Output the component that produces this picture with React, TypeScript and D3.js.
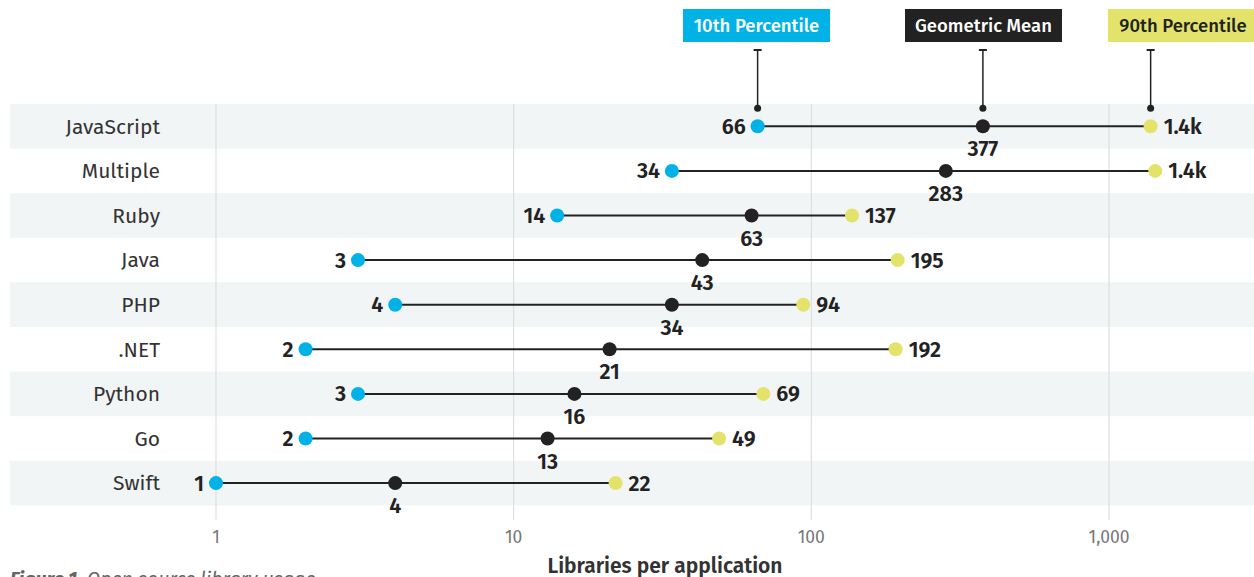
import React from "react";
import * as d3 from "d3";

const categories = ["JavaScript", "Multiple", "Ruby", "Java", "PHP", ".NET", "Python", "Go", "Swift"];
const p10 = [66, 34, 14, 3, 4, 2, 3, 2, 1];
const geoMean = [377, 283, 63, 43, 34, 21, 16, 13, 4];
const p90 = [1380, 1430, 137, 195, 94, 192, 69, 49, 22];
const p10Labels = ["66", "34", "14", "3", "4", "2", "3", "2", "1"];
const meanLabels = ["377", "283", "63", "43", "34", "21", "16", "13", "4"];
const p90Labels = ["1.4k", "1.4k", "137", "195", "94", "192", "69", "49", "22"];
const tickValues = [1, 10, 100, 1000];
const tickLabels = ["1", "10", "100", "1,000"];
const legendItems = ["10th Percentile", "Geometric Mean", "90th Percentile"];

const W = 1254;
const H = 577;
const FONT = "'Fira Sans', 'Open Sans', 'Noto Sans', sans-serif";
const BLUE = "#00b2e5";
const DARK = "#222222";
const YELLOW = "#e3e36b";

export default function App() {
  const x = d3.scaleLog().domain([1, 1000]).range([216, 1109]);
  const y = d3
    .scaleBand<string>()
    .domain(categories)
    .range([104, 104 + 44.6 * categories.length])
    .paddingInner(0)
    .paddingOuter(0);
  const bw = y.bandwidth();
  const cy = (c: string) => (y(c) as number) + bw / 2;

  const top = y(categories[0]) as number;
  const jsY = cy(categories[0]);
  const legendX = [x(p10[0]), x(geoMean[0]), x(p90[0])];
  const legendBoxes = [
    { x: 683, w: 147, fill: BLUE, text: "#fff" },
    { x: 905, w: 157, fill: DARK, text: "#fff" },
    { x: 1108, w: 150, fill: YELLOW, text: DARK },
  ];

  return (
    <svg
      width={W}
      height={H}
      style={{ position: "absolute", left: 0, top: 0, display: "block" }}
      fontFamily={FONT}
    >
      <rect x={0} y={0} width={W} height={H} fill="#fff" />
      {categories.map((c, i) =>
        i % 2 === 0 ? (
          <rect key={c} x={10} y={y(c)} width={W - 10} height={bw} fill="#f2f5f6" />
        ) : null
      )}
      {tickValues.map((t, i) => (
        <g key={t}>
          <line x1={x(t)} x2={x(t)} y1={top} y2={520} stroke="#d9d9d9" strokeWidth={1} />
          <text x={x(t)} y={543} textAnchor="middle" fontSize={17.5} fill="#777">
            {tickLabels[i]}
          </text>
        </g>
      ))}
      <text x={665} y={573} textAnchor="middle" fontSize={21} fontWeight={600} fill="#333">
        Libraries per application
      </text>
      <text x={10} y={586} fontSize={19.5} fill="#666" fontStyle="italic">
        <tspan fontWeight={700}>Figure 1.</tspan> Open source library usage
      </text>

      {categories.map((c) => (
        <text
          key={c}
          x={160}
          y={cy(c)}
          dy="0.35em"
          textAnchor="end"
          fontSize={21}
          fill="#333"
        >
          {c}
        </text>
      ))}

      {categories.map((c, i) => {
        const yy = cy(c);
        return (
          <g key={c}>
            <line x1={x(p10[i])} x2={x(p90[i])} y1={yy} y2={yy} stroke={DARK} strokeWidth={2} />
            <circle cx={x(p10[i])} cy={yy} r={7} fill={BLUE} />
            <circle cx={x(geoMean[i])} cy={yy} r={7} fill={DARK} />
            <circle cx={x(p90[i])} cy={yy} r={7} fill={YELLOW} />
            <text
              x={x(p10[i]) - 12}
              y={yy}
              dy="0.35em"
              textAnchor="end"
              fontSize={21.5}
              fontWeight={600}
              fill={DARK}
            >
              {p10Labels[i]}
            </text>
            <text
              x={x(geoMean[i])}
              y={yy + 30}
              textAnchor="middle"
              fontSize={21.5}
              fontWeight={600}
              fill={DARK}
            >
              {meanLabels[i]}
            </text>
            <text
              x={x(p90[i]) + 13}
              y={yy}
              dy="0.35em"
              textAnchor="start"
              fontSize={21.5}
              fontWeight={600}
              fill={DARK}
            >
              {p90Labels[i]}
            </text>
          </g>
        );
      })}

      {legendItems.map((l, i) => {
        const lx = legendX[i];
        const b = legendBoxes[i];
        return (
          <g key={l}>
            <rect x={b.x} y={9} width={b.w} height={33} fill={b.fill} />
            <text
              x={b.x + b.w / 2}
              y={26}
              dy="0.35em"
              textAnchor="middle"
              fontSize={18.5}
              fontWeight={500}
              fill={b.text}
            >
              {l}
            </text>
            <line x1={lx} x2={lx} y1={50} y2={jsY - 18} stroke={DARK} strokeWidth={1.5} />
            <line x1={lx - 4} x2={lx + 4} y1={50} y2={50} stroke={DARK} strokeWidth={2} />
            <circle cx={lx} cy={jsY - 18} r={3.5} fill={DARK} />
          </g>
        );
      })}
    </svg>
  );
}
